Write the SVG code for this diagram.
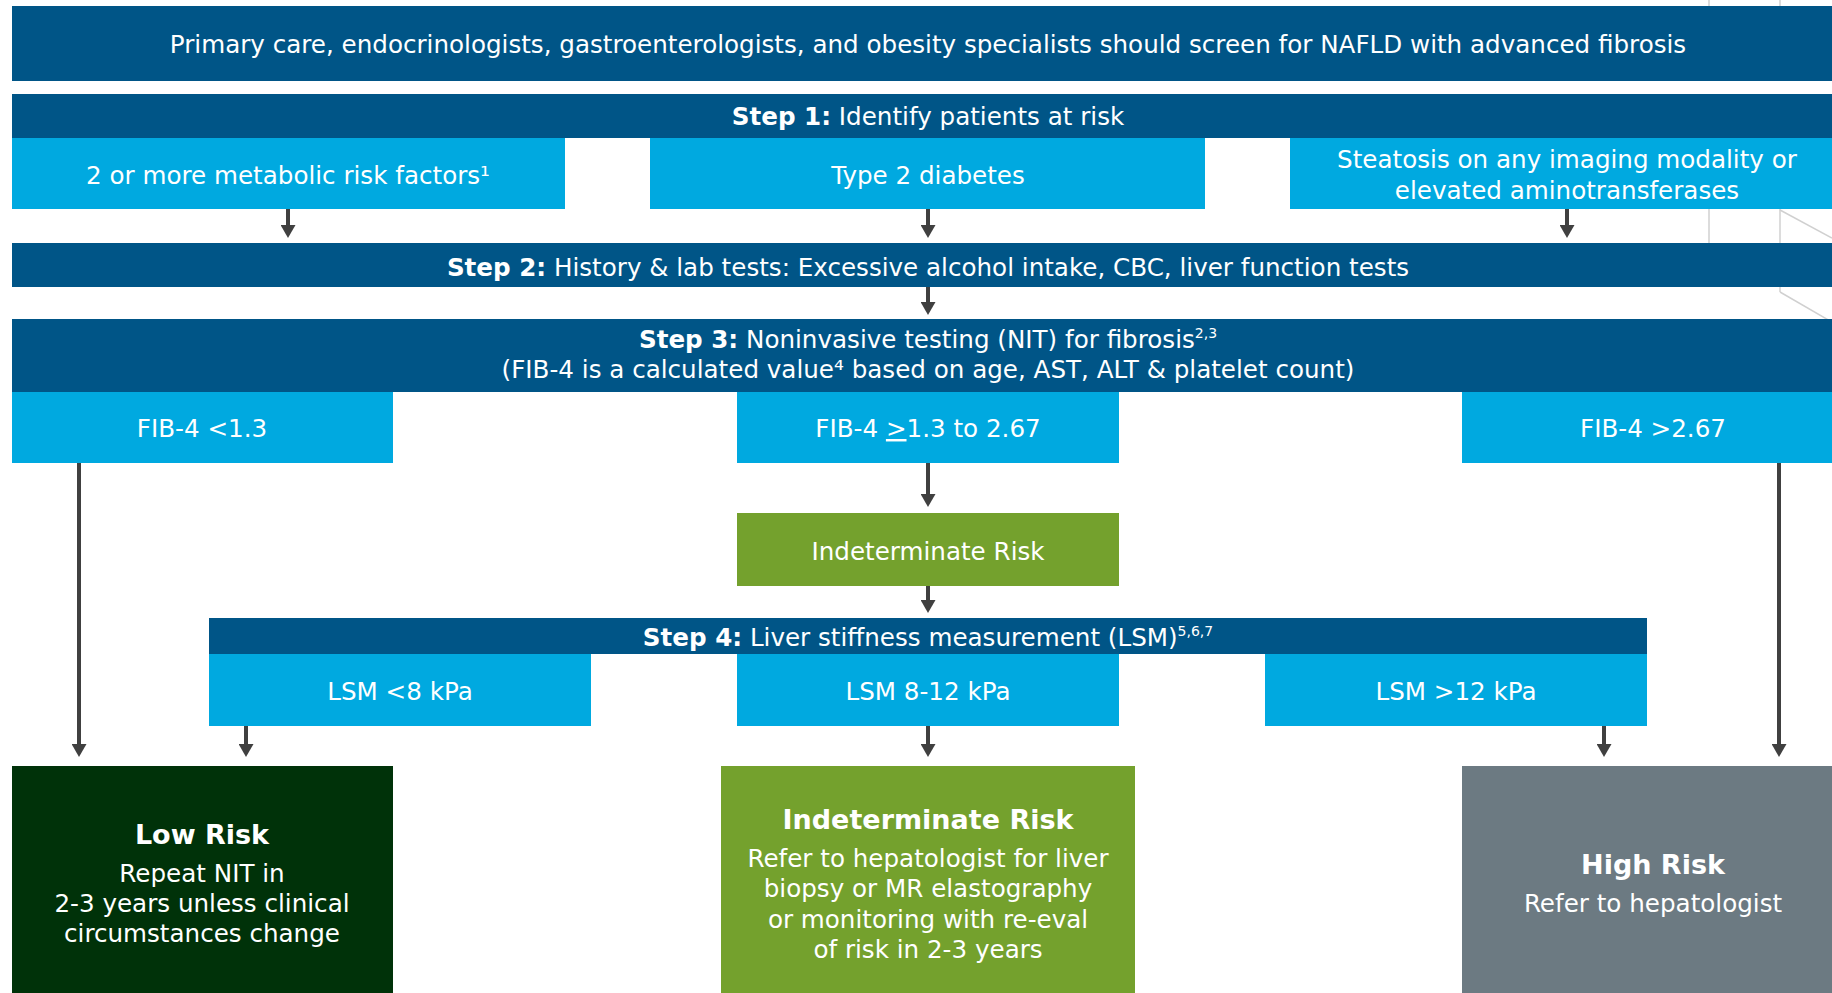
<svg xmlns="http://www.w3.org/2000/svg" width="1832" height="993" viewBox="0 0 1832 993">
<defs>
<marker id="ah" viewBox="0 0 13 15" refX="2" refY="7.5" markerWidth="13" markerHeight="15" markerUnits="userSpaceOnUse" orient="auto">
<path d="M0,0 L13,7.5 L0,15 Z" fill="#404040"/>
</marker>
<style>
.dark{fill:#005587}
.light{fill:#00A9E0}
.green{fill:#74A12D}
.dgreen{fill:#003209}
.gray{fill:#6C7A82}
text{font-family:"DejaVu Sans","Open Sans",sans-serif;fill:#fff;text-anchor:middle;font-size:24.6px}
.b{font-weight:700}
.title{font-size:27px;font-weight:700}
.sup{font-size:14px}
.conn line{stroke:#404040;stroke-width:4}
.bg line{stroke:#d0d0d0;stroke-width:1.5}
</style>
</defs>
<rect width="1832" height="993" fill="#fff"/>
<g class="bg">
<line x1="1709" y1="0" x2="1709" y2="6"/>
<line x1="1780" y1="0" x2="1780" y2="6"/>
<line x1="1709" y1="209" x2="1709" y2="243"/>
<line x1="1780" y1="209" x2="1780" y2="243"/>
<line x1="1780" y1="210" x2="1832" y2="238"/>
<line x1="1780" y1="287" x2="1780" y2="292"/>
<line x1="1780" y1="292" x2="1832" y2="322"/>
</g>
<g id="banner"><rect class="dark" x="12" y="6" width="1832" height="75"/><text x="928" y="53">Primary care, endocrinologists, gastroenterologists, and obesity specialists should screen for NAFLD with advanced fibrosis</text></g>
<g id="step1"><rect class="dark" x="12" y="94" width="1832" height="44"/><text x="928" y="125"><tspan class="b">Step 1:</tspan> Identify patients at risk</text></g>
<g id="risk-metabolic"><rect class="light" x="12" y="138" width="553" height="71"/><text x="288" y="184">2 or more metabolic risk factors¹</text></g>
<g id="risk-diabetes"><rect class="light" x="650" y="138" width="555" height="71"/><text x="928" y="184">Type 2 diabetes</text></g>
<g id="risk-steatosis"><rect class="light" x="1290" y="138" width="554" height="71"/><text x="1567" y="168">Steatosis on any imaging modality or<tspan x="1567" dy="31">elevated aminotransferases</tspan></text></g>
<g id="step2"><rect class="dark" x="12" y="243" width="1832" height="44"/><text x="928" y="276"><tspan class="b">Step 2:</tspan> History &amp; lab tests: Excessive alcohol intake, CBC, liver function tests</text></g>
<g id="step3"><rect class="dark" x="12" y="319" width="1832" height="73"/><text x="928" y="348"><tspan class="b">Step 3:</tspan> Noninvasive testing (NIT) for fibrosis<tspan class="sup" dy="-10">2,3</tspan><tspan x="928" y="378">(FIB-4 is a calculated value⁴ based on age, AST, ALT &amp; platelet count)</tspan></text></g>
<g id="fib-low"><rect class="light" x="12" y="392" width="381" height="71"/><text x="202" y="437">FIB-4 &lt;1.3</text></g>
<g id="fib-mid"><rect class="light" x="737" y="392" width="382" height="71"/><text x="928" y="437">FIB-4 <tspan text-decoration="underline">&gt;</tspan>1.3 to 2.67</text></g>
<g id="fib-high"><rect class="light" x="1462" y="392" width="382" height="71"/><text x="1653" y="437">FIB-4 &gt;2.67</text></g>
<g id="indet-small"><rect class="green" x="737" y="513" width="382" height="73"/><text x="928" y="560">Indeterminate Risk</text></g>
<g id="step4"><rect class="dark" x="209" y="618" width="1438" height="36"/><text x="928" y="646"><tspan class="b">Step 4:</tspan> Liver stiffness measurement (LSM)<tspan class="sup" dy="-10">5,6,7</tspan></text></g>
<g id="lsm-low"><rect class="light" x="209" y="654" width="382" height="72"/><text x="400" y="700">LSM &lt;8 kPa</text></g>
<g id="lsm-mid"><rect class="light" x="737" y="654" width="382" height="72"/><text x="928" y="700">LSM 8-12 kPa</text></g>
<g id="lsm-high"><rect class="light" x="1265" y="654" width="382" height="72"/><text x="1456" y="700">LSM &gt;12 kPa</text></g>
<g id="low-risk"><rect class="dgreen" x="12" y="766" width="381" height="240"/><text x="202" y="844"><tspan class="title">Low Risk</tspan><tspan x="202" y="882">Repeat NIT in</tspan><tspan x="202" y="912">2-3 years unless clinical</tspan><tspan x="202" y="942">circumstances change</tspan></text></g>
<g id="indet-risk"><rect class="green" x="721" y="766" width="414" height="240"/><text x="928" y="829"><tspan class="title">Indeterminate Risk</tspan><tspan x="928" y="867">Refer to hepatologist for liver</tspan><tspan x="928" y="897">biopsy or MR elastography</tspan><tspan x="928" y="928">or monitoring with re-eval</tspan><tspan x="928" y="958">of risk in 2-3 years</tspan></text></g>
<g id="high-risk"><rect class="gray" x="1462" y="766" width="382" height="240"/><text x="1653" y="874"><tspan class="title">High Risk</tspan><tspan x="1653" y="912">Refer to hepatologist</tspan></text></g>
<g class="conn" id="connectors">
<line x1="288" y1="209" x2="288" y2="227" marker-end="url(#ah)"/>
<line x1="928" y1="209" x2="928" y2="227" marker-end="url(#ah)"/>
<line x1="1567" y1="209" x2="1567" y2="227" marker-end="url(#ah)"/>
<line x1="928" y1="287" x2="928" y2="304" marker-end="url(#ah)"/>
<line x1="79" y1="463" x2="79" y2="746" marker-end="url(#ah)"/>
<line x1="928" y1="463" x2="928" y2="496" marker-end="url(#ah)"/>
<line x1="1779" y1="463" x2="1779" y2="746" marker-end="url(#ah)"/>
<line x1="928" y1="586" x2="928" y2="602" marker-end="url(#ah)"/>
<line x1="246" y1="726" x2="246" y2="746" marker-end="url(#ah)"/>
<line x1="928" y1="726" x2="928" y2="746" marker-end="url(#ah)"/>
<line x1="1604" y1="726" x2="1604" y2="746" marker-end="url(#ah)"/>
</g>
</svg>
